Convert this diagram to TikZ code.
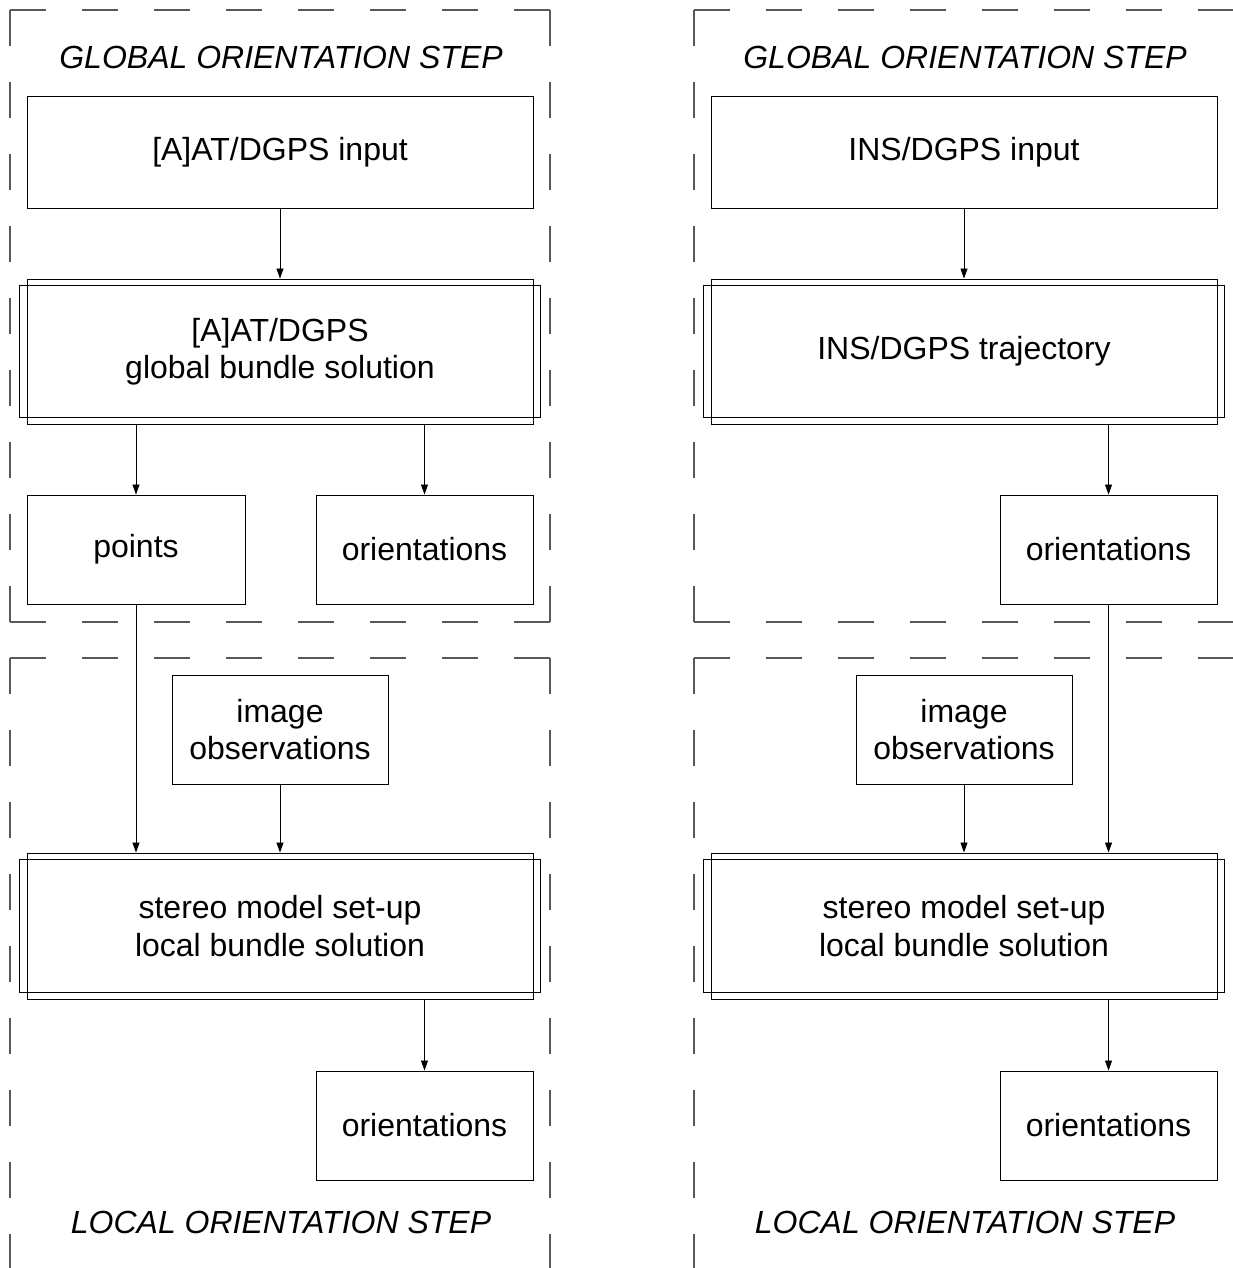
\documentclass[tikz,border=0pt]{standalone}
\usepackage{fontspec}
\setmainfont{Liberation Sans}
\usetikzlibrary{arrows.meta,calc}
\begin{document}
\begin{tikzpicture}[x=1pt,y=-1pt,
  box/.style={draw,line width=1pt,inner sep=0pt,align=center,font=\fontsize{32}{37.5}\selectfont},
  lbl/.style={inner sep=0pt,font=\fontsize{32}{37.5}\selectfont\itshape},
  frm/.style={draw=black!65,line width=1.4pt,dash pattern=on 36pt off 36pt},
  arr/.style={-{Triangle[length=10pt,width=7pt]},line width=0.9pt},
  dbl/.style={line width=1pt}]
\useasboundingbox (0,0) rectangle (1233,1268);
\clip (0,0) rectangle (1233,1268);

% dashed frames
\foreach \dx in {0,684} {
  \draw[frm] (10+\dx,10) -- (550+\dx,10);
  \draw[frm] (10+\dx,10) -- (10+\dx,622);
  \draw[frm] (550+\dx,10) -- (550+\dx,622);
  \draw[frm] (10+\dx,622) -- (550+\dx,622);
  \draw[frm] (10+\dx,658) -- (550+\dx,658);
  \draw[frm] (10+\dx,658) -- (10+\dx,1310);
  \draw[frm] (550+\dx,658) -- (550+\dx,1310);
}

% step labels
\node[lbl] (tgA) at (281,57) {GLOBAL ORIENTATION STEP};
\node[lbl] (tlA) at (281,1222) {LOCAL ORIENTATION STEP};
\node[lbl] (tgB) at (965,57) {GLOBAL ORIENTATION STEP};
\node[lbl] (tlB) at (965,1222) {LOCAL ORIENTATION STEP};

% left column
\node[box,minimum width=506pt,minimum height=111pt] (inA) at (280,152.5) {[A]AT/DGPS input};
\node[box,minimum width=506pt,minimum height=145pt] (gbA) at (280,351.5) {[A]AT/DGPS\\global bundle solution};
\draw[dbl] ($(gbA.north west)+(-7,7)$) rectangle ($(gbA.south east)+(7,-7)$);
\node[box,minimum width=218pt,minimum height=109pt] (ptA) at (136,549.5) {points};
\node[box,minimum width=217pt,minimum height=109pt] (orA1) at (424.5,549.5) {orientations};
\node[box,minimum width=216pt,minimum height=109pt] (imA) at (280,729.5) {image\\observations};
\node[box,minimum width=506pt,minimum height=146pt] (lbA) at (280,926) {stereo model set-up\\local bundle solution};
\draw[dbl] ($(lbA.north west)+(-7,7)$) rectangle ($(lbA.south east)+(7,-7)$);
\node[box,minimum width=217pt,minimum height=109pt] (orA2) at (424.5,1125.5) {orientations};

\draw[arr] (inA.south) -- (gbA.north);
\draw[arr] (ptA.north |- gbA.south) -- (ptA.north);
\draw[arr] (orA1.north |- gbA.south) -- (orA1.north);
\draw[arr] (ptA.south) -- (ptA.south |- lbA.north);
\draw[arr] (imA.south) -- (imA.south |- lbA.north);
\draw[arr] (orA2.north |- lbA.south) -- (orA2.north);

% right column
\node[box,minimum width=506pt,minimum height=111pt] (inB) at (964,152.5) {INS/DGPS input};
\node[box,minimum width=506pt,minimum height=145pt] (gbB) at (964,351.5) {INS/DGPS trajectory};
\draw[dbl] ($(gbB.north west)+(-7,7)$) rectangle ($(gbB.south east)+(7,-7)$);
\node[box,minimum width=217pt,minimum height=109pt] (orB1) at (1108.5,549.5) {orientations};
\node[box,minimum width=216pt,minimum height=109pt] (imB) at (964,729.5) {image\\observations};
\node[box,minimum width=506pt,minimum height=146pt] (lbB) at (964,926) {stereo model set-up\\local bundle solution};
\draw[dbl] ($(lbB.north west)+(-7,7)$) rectangle ($(lbB.south east)+(7,-7)$);
\node[box,minimum width=217pt,minimum height=109pt] (orB2) at (1108.5,1125.5) {orientations};

\draw[arr] (inB.south) -- (gbB.north);
\draw[arr] (orB1.north |- gbB.south) -- (orB1.north);
\draw[arr] (orB1.south) -- (orB1.south |- lbB.north);
\draw[arr] (imB.south) -- (imB.south |- lbB.north);
\draw[arr] (orB2.north |- lbB.south) -- (orB2.north);
\end{tikzpicture}
\end{document}
